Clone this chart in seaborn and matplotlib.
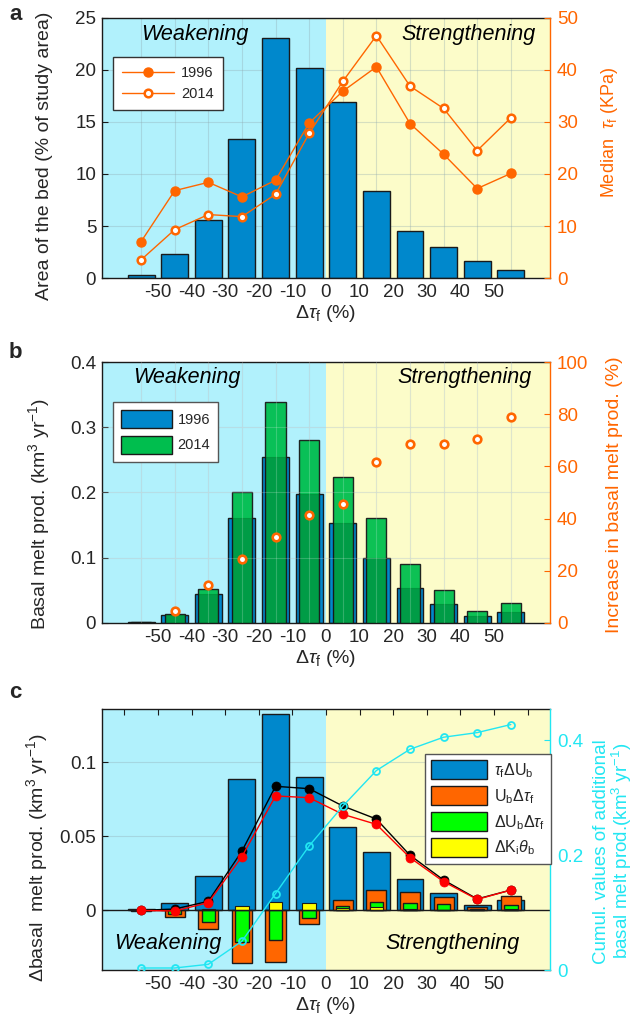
import numpy as np
import pandas as pd
import matplotlib
matplotlib.use("Agg")
import matplotlib.pyplot as plt
import seaborn as sns
from matplotlib.patches import Patch
from matplotlib.lines import Line2D

sns.set_theme(style="white")
plt.rcParams['font.family'] = ['Liberation Sans', 'DejaVu Sans']
plt.rcParams['mathtext.fontset'] = 'custom'
plt.rcParams['mathtext.rm'] = 'Liberation Sans'
plt.rcParams['mathtext.it'] = 'Liberation Sans:italic'
plt.rcParams['mathtext.bf'] = 'Liberation Sans:bold'

# ---------------- data ----------------
# bin centres of the change in basal shear stress (%)
dtau_bins = [-55, -45, -35, -25, -15, -5, 5, 15, 25, 35, 45, 55]
tick_pos = [-60, -50, -40, -30, -20, -10, 0, 10, 20, 30, 40, 50, 60]
tick_lab = ['', '-50', '-40', '-30', '-20', '-10', '0', '10', '20', '30', '40', '50', '']

# (a) bed area per bin and median basal shear stress
area_pct = [0.3, 2.3, 5.6, 13.4, 23.1, 20.2, 16.9, 8.4, 4.5, 3.0, 1.6, 0.8]
tau_1996 = [7.0, 16.8, 18.4, 15.6, 18.8, 29.8, 35.9, 40.6, 29.7, 23.8, 17.2, 20.1]
tau_2014 = [3.5, 9.3, 12.2, 11.8, 16.1, 27.8, 37.8, 46.6, 36.9, 32.6, 24.5, 30.8]

# (b) basal melt production and its increase
melt_1996 = [0.0015, 0.0128, 0.045, 0.161, 0.254, 0.198, 0.154, 0.100, 0.054, 0.029, 0.011, 0.0175]
melt_2014 = [0.0015, 0.0134, 0.0515, 0.201, 0.338, 0.280, 0.224, 0.161, 0.090, 0.050, 0.019, 0.031]
melt_increase = [np.nan, 4.4, 14.4, 24.6, 32.9, 41.5, 45.6, 61.5, 68.7, 68.7, 70.5, 78.8]

# (c) decomposition of the change in basal melt production
term_tau_dub = [0.0007, 0.0047, 0.023, 0.0885, 0.1324, 0.0899, 0.0561, 0.0392, 0.0214, 0.0119, 0.0038, 0.007]
term_ub_dtau = [-0.0003, -0.0043, -0.0128, -0.0358, -0.0351, -0.0095, 0.0068, 0.0135, 0.0124, 0.0088, 0.0025, 0.0095]
term_dub_dtau = [-0.0001, -0.0022, -0.0077, -0.0216, -0.0200, -0.0054, 0.0029, 0.0059, 0.0050, 0.0040, 0.0010, 0.0036]
term_dki = [0.0001, 0.0005, 0.0011, 0.0032, 0.0054, 0.0047, 0.0016, 0.0023, 0.0010, 0.0005, 0.0004, 0.0010]
total_change = [0.0, 0.0009, 0.0061, 0.040, 0.0838, 0.0822, 0.0705, 0.0617, 0.0372, 0.0205, 0.0077, 0.0137]
total_change_alt = [-0.0001, -0.0004, 0.0052, 0.0363, 0.0773, 0.0761, 0.0649, 0.0581, 0.0356, 0.0194, 0.0074, 0.0137]
cumul_change = [0.0035, 0.0035, 0.0099, 0.050, 0.133, 0.216, 0.285, 0.347, 0.384, 0.405, 0.413, 0.427]

df_a = pd.DataFrame({'dtau': dtau_bins, 'area': area_pct, 't96': tau_1996, 't14': tau_2014})
df_b = pd.DataFrame({'dtau': dtau_bins, 'm96': melt_1996, 'm14': melt_2014, 'inc': melt_increase})
df_c = pd.DataFrame({'dtau': dtau_bins, 'a': term_tau_dub, 'b': term_ub_dtau, 'c': term_dub_dtau,
                     'd': term_dki, 'tot': total_change, 'tot2': total_change_alt, 'cum': cumul_change})

# ---------------- style ----------------
BLUE = '#0088cc'
ORANGE = '#ff6600'
GREEN_B = '#00be4e'
GREEN_C = '#00ff00'
YELLOW = '#ffff00'
CYAN = '#22e6f2'
RED = '#ff0000'
BG_WEAK = '#b1f1fc'
BG_STRONG = '#fcfcc9'
EDGE = '#1a1a1a'
TXT = '#262626'
XLIM = (-66.7, 66.7)
FS_TICK = 13.5
FS_LAB = 14

fig = plt.figure(figsize=(6.36, 10.27), dpi=100)
W = 0.705
L = 0.160
pos = {'a': [L, 0.7293, W, 0.2532], 'b': [L, 0.3934, W, 0.2541], 'c': [L, 0.0555, W, 0.2541]}


def base_axes(ax, ylim, yticks, ylabels, vgrid=True, top_ticks=False):
    ax.set_xlim(*XLIM)
    ax.set_ylim(*ylim)
    ax.axvspan(XLIM[0], 0, color=BG_WEAK, zorder=0, lw=0)
    ax.axvspan(0, XLIM[1], color=BG_STRONG, zorder=0, lw=0)
    for y in yticks[1:]:
        ax.axhline(y, color='#8fa9b0', alpha=0.35, lw=0.8, zorder=0.5)
    if vgrid:
        for x in dtau_bins:
            ax.axvline(x, color='#8fa9b0', alpha=0.35, lw=0.8, zorder=0.5)
    ax.set_xticks(tick_pos)
    ax.set_xticklabels(tick_lab)
    ax.set_yticks(yticks)
    ax.set_yticklabels(ylabels)
    ax.tick_params(axis='both', direction='in', length=4, width=0.8, colors=TXT,
                   labelsize=FS_TICK, top=top_ticks, right=False, pad=4)
    ax.tick_params(axis='x', colors=EDGE, labelcolor=TXT)
    ax.tick_params(axis='y', colors=EDGE, labelcolor=TXT)
    for s in ['left', 'bottom', 'top']:
        ax.spines[s].set_color(EDGE)
        ax.spines[s].set_linewidth(1.0)
    ax.spines['right'].set_visible(False)
    ax.set_xlabel(r'$\Delta\tau_{\rm f}$ (%)', fontsize=FS_LAB, color=TXT, labelpad=2)


def right_axes(ax, ylim, yticks, ylabels, color):
    ax2 = ax.twinx()
    ax2.set_xlim(*XLIM)
    ax2.set_ylim(*ylim)
    ax2.set_yticks(yticks)
    ax2.set_yticklabels(ylabels)
    ax2.tick_params(axis='y', direction='in', length=4, width=0.8, colors=color,
                    labelsize=FS_TICK, pad=5)
    for s in ['left', 'bottom', 'top']:
        ax2.spines[s].set_visible(False)
    ax2.spines['right'].set_color(color)
    ax2.spines['right'].set_linewidth(1.0)
    ax2.grid(False)
    return ax2


def region_labels(ax, xw, xs, y):
    kw = dict(transform=ax.transAxes, fontsize=15.5, style='italic', color='black',
              ha='center', va='center', zorder=10)
    ax.text(xw, y, 'Weakening', **kw)
    ax.text(xs, y, 'Strengthening', **kw)


bar_kw = dict(native_scale=True, saturation=1, errorbar=None, orient='x')

# ---------------- panel a ----------------
ax = fig.add_axes(pos['a'])
sns.barplot(data=df_a, x='dtau', y='area', color=BLUE, width=0.8, edgecolor=EDGE,
            linewidth=1.0, zorder=2, ax=ax, **bar_kw)
base_axes(ax, (0, 25), [0, 5, 10, 15, 20, 25], ['0', '5', '10', '15', '20', '25'])
ax.set_ylabel('Area of the bed (% of study area)', fontsize=FS_LAB, color=TXT)
ax.yaxis.set_label_coords(-0.108, 0.47)
region_labels(ax, 0.2076, 0.817, 0.935)
ax2 = right_axes(ax, (0, 50), [0, 10, 20, 30, 40, 50], ['0', '10', '20', '30', '40', '50'], ORANGE)
sns.lineplot(data=df_a, x='dtau', y='t96', color=ORANGE, lw=1.0, marker='o', markersize=6.5,
             markerfacecolor=ORANGE, markeredgecolor=ORANGE, markeredgewidth=1,
             estimator=None, ax=ax2)
sns.lineplot(data=df_a, x='dtau', y='t14', color=ORANGE, lw=1.0, marker='o', markersize=5.5,
             markerfacecolor='white', markeredgecolor=ORANGE, markeredgewidth=1.8,
             estimator=None, ax=ax2)
ax2.set_ylabel(r'Median  $\tau_{\rm f}$ (KPa)', fontsize=13, color=ORANGE)
ax2.yaxis.set_label_coords(1.11, 0.56)
ax2.set_xlabel('')
h = [Line2D([], [], color=ORANGE, lw=1.0, marker='o', ms=6.5, mfc=ORANGE, mec=ORANGE),
     Line2D([], [], color=ORANGE, lw=1.0, marker='o', ms=5.5, mfc='white', mec=ORANGE, mew=1.8)]
leg = ax2.legend(h, ['1996', '2014'], loc='upper left', bbox_to_anchor=(0.0246, 0.85),
                 fontsize=10.5, frameon=True, fancybox=False, framealpha=1, edgecolor='#333333',
                 handlelength=3.6, borderpad=0.6, labelspacing=0.5, handletextpad=0.5,
                 borderaxespad=0)
leg.get_frame().set_linewidth(1.0)

# ---------------- panel b ----------------
ax = fig.add_axes(pos['b'])
sns.barplot(data=df_b, x='dtau', y='m96', color=BLUE, width=0.8, edgecolor=EDGE,
            linewidth=1.0, zorder=2, ax=ax, **bar_kw)
sns.barplot(data=df_b, x='dtau', y='m14', color=GREEN_B, width=0.6, edgecolor=EDGE,
            linewidth=1.0, zorder=3, alpha=0.95, ax=ax, **bar_kw)
# darker shading where the 2014 bars overlap the 1996 values
sns.barplot(data=df_b, x='dtau', y='m96', color='black', width=0.6, linewidth=0,
            zorder=3.5, alpha=0.16, ax=ax, **bar_kw)
base_axes(ax, (0, 0.4), [0, 0.1, 0.2, 0.3, 0.4], ['0', '0.1', '0.2', '0.3', '0.4'])
for y in [0.1, 0.2, 0.3]:
    ax.axhline(y, color='white', alpha=0.2, lw=0.8, zorder=4)
for x in dtau_bins:
    ax.axvline(x, color='white', alpha=0.2, lw=0.8, zorder=4)
ax.set_ylabel(r'Basal melt prod. (km$^3$ yr$^{-1}$)', fontsize=FS_LAB, color=TXT)
ax.yaxis.set_label_coords(-0.11, 0.42)
region_labels(ax, 0.19, 0.808, 0.939)
ax2 = right_axes(ax, (0, 100), [0, 20, 40, 60, 80, 100], ['0', '20', '40', '60', '80', '100'], ORANGE)
sns.scatterplot(data=df_b, x='dtau', y='inc', marker='o', s=30, facecolor='white',
                edgecolor=ORANGE, linewidth=1.9, zorder=5, ax=ax2)
ax2.set_ylabel('Increase in basal melt prod. (%)', fontsize=FS_LAB, color=ORANGE)
ax2.yaxis.set_label_coords(1.125, 0.49)
ax2.set_xlabel('')
h = [Patch(facecolor=BLUE, edgecolor=EDGE, lw=1.0),
     Patch(facecolor=GREEN_B, edgecolor=EDGE, lw=1.0)]
leg = ax2.legend(h, ['1996', '2014'], loc='upper left', bbox_to_anchor=(0.0246, 0.847),
                 fontsize=10.5, frameon=True, fancybox=False, framealpha=1, edgecolor='#555555',
                 handlelength=3.5, handleheight=1.5, borderpad=0.55, labelspacing=0.55,
                 handletextpad=0.4, borderaxespad=0)
leg.get_frame().set_linewidth(1.0)

# ---------------- panel c ----------------
ax = fig.add_axes(pos['c'])
sns.barplot(data=df_c, x='dtau', y='a', color=BLUE, width=0.8, edgecolor=EDGE,
            linewidth=1.0, zorder=2, ax=ax, **bar_kw)
sns.barplot(data=df_c, x='dtau', y='b', color=ORANGE, width=0.6, edgecolor=EDGE,
            linewidth=1.0, zorder=2.2, ax=ax, **bar_kw)
sns.barplot(data=df_c, x='dtau', y='c', color=GREEN_C, width=0.4, edgecolor=EDGE,
            linewidth=1.0, zorder=2.4, ax=ax, **bar_kw)
sns.barplot(data=df_c, x='dtau', y='d', color=YELLOW, width=0.4, edgecolor=EDGE,
            linewidth=0.8, zorder=2.6, ax=ax, **bar_kw)
base_axes(ax, (-0.0403, 0.136), [0, 0.05, 0.1], ['0', '0.05', '0.1'], vgrid=False, top_ticks=True)
ax.axhline(0, color=EDGE, lw=1.0, zorder=2.8)
sns.lineplot(data=df_c, x='dtau', y='tot', color='black', lw=1.0, marker='o', markersize=6.5,
             markerfacecolor='black', markeredgecolor='black', markeredgewidth=0.5,
             estimator=None, zorder=4, ax=ax)
sns.lineplot(data=df_c, x='dtau', y='tot2', color=RED, lw=1.0, marker='o', markersize=6.5,
             markerfacecolor=RED, markeredgecolor=RED, markeredgewidth=0.5,
             estimator=None, zorder=4.2, ax=ax)
ax.set_xlabel(r'$\Delta\tau_{\rm f}$ (%)', fontsize=FS_LAB, color=TXT, labelpad=2)
ax.set_ylabel(r'$\Delta$basal  melt prod. (km$^3$ yr$^{-1}$)', fontsize=FS_LAB, color=TXT)
ax.yaxis.set_label_coords(-0.116, 0.43)
region_labels(ax, 0.147, 0.783, 0.103)
ax2 = right_axes(ax, (0, 0.454), [0, 0.2, 0.4], ['0', '0.2', '0.4'], CYAN)
sns.lineplot(data=df_c, x='dtau', y='cum', color=CYAN, lw=1.0, marker='o', markersize=5,
             markerfacecolor='none', markeredgecolor=CYAN, markeredgewidth=1.3,
             estimator=None, ax=ax2)
ax2.set_ylabel('Cumul. values of additional\n' + r'basal melt prod.(km$^3$ yr$^{-1}$)',
               fontsize=13.5, color=CYAN, linespacing=1.0)
ax2.yaxis.set_label_coords(1.095, 0.455)
ax2.set_xlabel('')
h = [Patch(facecolor=BLUE, edgecolor=EDGE, lw=1.0),
     Patch(facecolor=ORANGE, edgecolor=EDGE, lw=1.0),
     Patch(facecolor=GREEN_C, edgecolor=EDGE, lw=1.0),
     Patch(facecolor=YELLOW, edgecolor=EDGE, lw=1.0)]
labs = [r'$\tau_{\rm f}\Delta$U$_{\rm b}$', r'U$_{\rm b}\Delta\tau_{\rm f}$',
        r'$\Delta$U$_{\rm b}\Delta\tau_{\rm f}$', r'$\Delta$K$_{\rm i}\theta_{\rm b}$']
leg = ax2.legend(h, labs, loc='upper left', bbox_to_anchor=(0.721, 0.8276),
                 fontsize=11.5, frameon=True, fancybox=False, framealpha=1, edgecolor='#555555',
                 handlelength=3.5, handleheight=1.45, borderpad=0.4, labelspacing=0.4,
                 handletextpad=0.4, borderaxespad=0)
leg.get_frame().set_linewidth(1.0)

# panel letters
for letter, y in [('a', 0.986), ('b', 0.657), ('c', 0.326)]:
    fig.text(0.024, y, letter, fontsize=16, fontweight='bold', ha='center', va='center')

fig.savefig('out.png', dpi=100)
